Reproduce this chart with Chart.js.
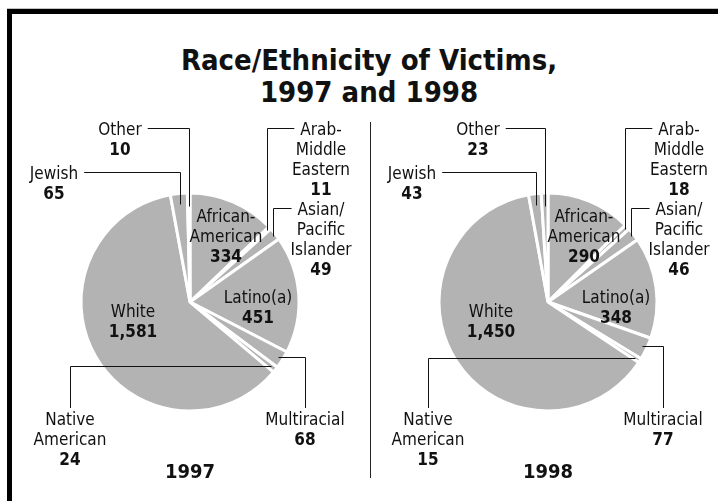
<!DOCTYPE html>
<html>
<head>
<meta charset="utf-8">
<title>Race/Ethnicity of Victims, 1997 and 1998</title>
<script src="https://cdn.jsdelivr.net/npm/chart.js@4.4.0/dist/chart.umd.min.js"></script>
<style>
  html, body { margin: 0; padding: 0; background: #fff; }
  body { width: 718px; height: 501px; position: relative; overflow: hidden; font-family: "DejaVu Sans Condensed", "Liberation Sans", sans-serif; color: #111; }
  .rule { position: absolute; left: 7px; top: 8px; width: 720px; height: 1px; background: #c4c4c4; }
  .frame { position: absolute; left: 7px; top: 9px; width: 800px; height: 600px; border-left: 5px solid #000; border-top: 5px solid #000; }
  .title { position: absolute; left: 0; top: 44px; width: 738px; text-align: center; font-weight: bold; font-size: 29px; line-height: 32px; }
  .divider { position: absolute; left: 370px; top: 122px; width: 1px; height: 356px; background: #222; }
  .pie { position: absolute; top: 110px; width: 360px; height: 391px; }
  #box1997 { left: 0; }
  #box1998 { left: 358px; }
</style>
</head>
<body>
<div class="rule"></div>
<div class="frame"></div>
<div class="title">Race/Ethnicity of Victims,<br>1997 and 1998</div>
<div class="divider"></div>
<div class="pie" id="box1997"><canvas id="pie1997"></canvas></div>
<div class="pie" id="box1998"><canvas id="pie1998"></canvas></div>

<script>
// Categories in the order they go round the pie, clockwise from 12 o'clock
const categories = ['African-American', 'Arab-Middle Eastern', 'Asian/Pacific Islander', 'Latino(a)',
  'Multiracial', 'Native American', 'White', 'Jewish', 'Other'];

// Number of victims per year
const victims1997 = [334, 11, 49, 451, 68, 24, 1581, 65, 10];
const victims1998 = [290, 18, 46, 348, 77, 15, 1450, 43, 23];

const years = ['1997', '1998'];

// How each category is labelled: text lines, where the text sits (relative to the pie centre)
// and how the leader line runs ('h' = sideways first, 'v' = up first)
const labelLayout = [
  { lines: ['African-', 'American'], dx: 36, dy: -80 },
  { lines: ['Arab-', 'Middle', 'Eastern'], dx: 131, dy: -167, leader: 'h', reach: 0.97 },
  { lines: ['Asian/', 'Pacific', 'Islander'], dx: 131, dy: -87, leader: 'h', reach: 0.97 },
  { lines: ['Latino(a)'], dx: 68, dy: 1 },
  { lines: ['Multiracial'], dx: 115, dy: 123, leader: 'v', reach: 0.95 },
  { lines: ['Native', 'American'], dx: -120, dy: 123, leader: 'v', reach: 0.95 },
  { lines: ['White'], dx: -57, dy: 15 },
  { lines: ['Jewish'], dx: -136, dy: -123, leader: 'h', reach: 0.9 },
  { lines: ['Other'], dx: -70, dy: -167, leader: 'h', reach: 0.88 }
];

const FONT = '"DejaVu Sans Condensed", "Liberation Sans", sans-serif';

// Draws the labels, their leader lines and the year under each pie
const calloutPlugin = {
  id: 'callouts',
  afterDatasetsDraw(chart) {
    const ctx = chart.ctx;
    const arcs = chart.getDatasetMeta(0).data;
    const values = chart.data.datasets[0].data;
    const cx = arcs[0].x;
    const cy = arcs[0].y;

    ctx.save();
    ctx.textAlign = 'center';
    ctx.textBaseline = 'alphabetic';
    ctx.fillStyle = '#111';
    ctx.strokeStyle = '#111';
    ctx.lineWidth = 1;

    labelLayout.forEach((lab, i) => {
      const x = cx + lab.dx;
      const y = cy + lab.dy;

      ctx.font = '17px ' + FONT;
      lab.lines.forEach((t, k) => ctx.fillText(t, x, y + k * 20));
      ctx.font = 'bold 17px ' + FONT;
      ctx.fillText(values[i].toLocaleString('en-US'), x, y + lab.lines.length * 20);

      if (!lab.leader) return;

      // point inside the slice that the leader points at
      const p = arcs[i].getProps(['startAngle', 'endAngle', 'outerRadius'], true);
      const mid = (p.startAngle + p.endAngle) / 2;
      const px = Math.round(cx + Math.cos(mid) * p.outerRadius * lab.reach) + 0.5;
      const py = Math.round(cy + Math.sin(mid) * p.outerRadius * lab.reach) + 0.5;

      ctx.beginPath();
      if (lab.leader === 'h') {
        ctx.font = '17px ' + FONT;
        const w = ctx.measureText(lab.lines[0]).width;
        const ly = Math.round(y - 7) + 0.5;
        const sx = px > x ? x + w / 2 + 6 : x - w / 2 - 6;
        ctx.moveTo(sx, ly);
        ctx.lineTo(px, ly);
        ctx.lineTo(px, py);
      } else {
        const lx = Math.round(x) + 0.5;
        ctx.moveTo(lx, y - 17);
        ctx.lineTo(lx, py);
        ctx.lineTo(px, py);
      }
      ctx.stroke();
    });

    // year under the pie
    ctx.font = 'bold 20px ' + FONT;
    ctx.fillText(chart.data.datasets[0].label, cx, cy + 176);
    ctx.restore();
  }
};

function makePie(canvasId, year, values) {
  return new Chart(document.getElementById(canvasId), {
    type: 'pie',
    data: {
      labels: categories,
      datasets: [{
        label: year,
        data: values,
        backgroundColor: '#b3b3b3',
        borderColor: '#ffffff',
        borderWidth: 3
      }]
    },
    options: {
      responsive: true,
      maintainAspectRatio: false,
      animation: false,
      events: [],
      radius: 109,
      layout: { padding: { left: 40, right: 20, top: 20, bottom: 27 } },
      plugins: {
        legend: { display: false },
        tooltip: { enabled: false }
      }
    },
    plugins: [calloutPlugin]
  });
}

makePie('pie1997', years[0], victims1997);
makePie('pie1998', years[1], victims1998);
</script>
</body>
</html>
